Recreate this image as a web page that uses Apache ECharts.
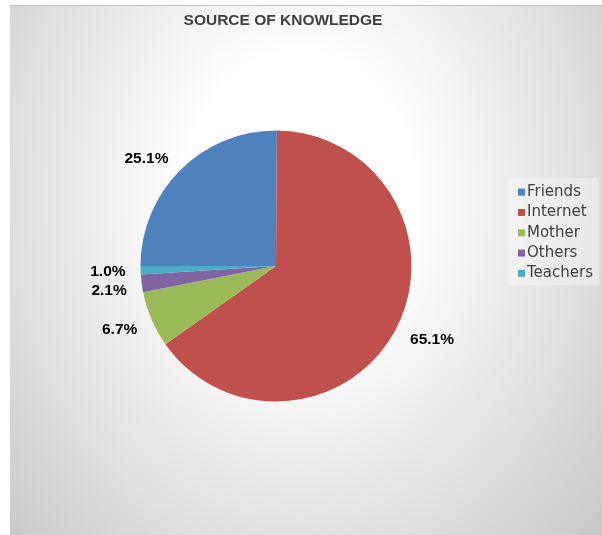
<!DOCTYPE html>
<html>
<head>
<meta charset="utf-8">
<script src="https://cdn.jsdelivr.net/npm/echarts@6/dist/echarts.min.js"></script>
<style>
  html, body { margin: 0; padding: 0; background: #ffffff; }
  #chart { width: 602px; height: 535px; }
</style>
</head>
<body>
<div id="chart"></div>
<script>
// Survey answers: where respondents got their knowledge
const categories = ['Friends', 'Internet', 'Mother', 'Others', 'Teachers'];
const shares = [25.1, 65.1, 6.7, 2.1, 1.0];
const palette = ['#4F81BD', '#C0504D', '#9BBB59', '#8064A2', '#4BACC6'];
const chartTitle = 'SOURCE OF KNOWLEDGE';

// small vertical nudges for the outside percentage labels
const labelNudge = { Friends: -4, Internet: 6, Mother: 6, Others: 6, Teachers: 1 };

const chart = echarts.init(document.getElementById('chart'), null, { renderer: 'canvas' });

// elliptical light-to-grey backdrop (circle gradient stretched vertically)
const stretch = 1.25;
chart.setOption({
  animation: false,
  color: palette,
  graphic: [{
    type: 'rect',
    z: -10,
    silent: true,
    originX: 0,
    originY: 5,
    scaleY: stretch,
    shape: { x: 10, y: 5, width: 592, height: 530 / stretch },
    style: {
      fill: {
        type: 'radial', x: 300, y: 5 + 190 / stretch, r: 435, global: true,
        colorStops: [
          { offset: 0, color: '#ffffff' },
          { offset: 0.26, color: '#ffffff' },
          { offset: 1, color: '#c3c3c3' }
        ]
      }
    }
  }, {
    type: 'line',
    z: -9,
    silent: true,
    shape: { x1: 10, y1: 5.5, x2: 602, y2: 5.5 },
    style: { stroke: '#c4c4c4', lineWidth: 1 }
  }],
  title: {
    text: chartTitle,
    left: 278,
    top: 8,
    textAlign: 'center',
    textStyle: {
      fontFamily: 'Liberation Sans, Arial, sans-serif',
      fontSize: 15.5,
      fontWeight: 'bold',
      color: '#404040'
    }
  },
  legend: {
    orient: 'vertical',
    left: 508,
    top: 178,
    padding: [6, 6, 4, 10],
    backgroundColor: 'rgba(255,255,255,0.35)',
    itemWidth: 7,
    itemHeight: 7,
    itemGap: 4,
    icon: 'rect',
    data: categories,
    textStyle: {
      fontFamily: 'DejaVu Sans, sans-serif',
      fontSize: 15,
      lineHeight: 16.3,
      color: '#404040',
      padding: [0, 0, 0, -3]
    }
  },
  series: [{
    type: 'pie',
    center: [276, 266],
    radius: 135.5,
    startAngle: 180,
    clockwise: true,
    avoidLabelOverlap: false,
    minShowLabelAngle: 0,
    data: categories.map((name, i) => ({ name, value: shares[i] })),
    label: {
      show: true,
      position: 'outside',
      formatter: p => p.value.toFixed(1) + '%',
      fontFamily: 'Liberation Sans, Arial, sans-serif',
      fontSize: 15.5,
      fontWeight: 'bold',
      color: '#000000',
      distanceToLabelLine: 5
    },
    labelLine: { show: false, length: 10, length2: 0 },
    labelLayout: p => ({ hideOverlap: false, moveOverlap: false, dy: labelNudge[categories[p.dataIndex]] || 0 }),
    itemStyle: { borderWidth: 0 },
    emphasis: { disabled: true }
  }]
});
</script>
</body>
</html>
